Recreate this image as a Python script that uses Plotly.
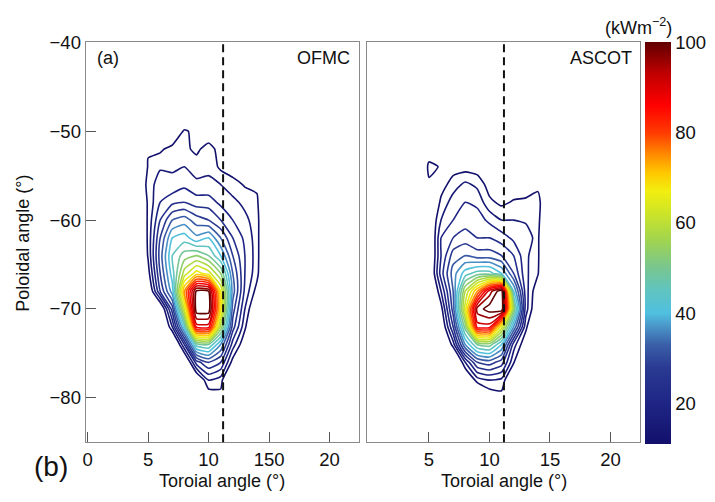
import plotly.graph_objects as go

# Grid of the heat-flux maps (toroidal angle x, poloidal angle y), values in kW m^-2
tor_angle = [4, 5, 6, 7, 8, 9, 10, 11, 12, 13, 14, 15]
pol_angle = [-82, -80, -78, -76, -74, -72, -70, -68, -66, -64, -62, -60,
             -58, -56, -54, -52, -50, -48]

# OFMC heat load (rows follow pol_angle, columns follow tor_angle)
flux_ofmc = [
    [0, 0, 0, 0, 0, 0, 0, 0, 0, 0, 0, 0],
    [0, 0, 0, 0, 0, 0, 8, 10, 0, 0, 0, 0],
    [0, 0, 0, 0, 0, 5, 16, 14, 0, 0, 0, 0],
    [0, 0, 0, 0, 3, 22, 28, 24, 10, 0, 0, 0],
    [0, 0, 0, 0, 20, 46, 48, 36, 18, 8, 0, 0],
    [0, 0, 0, 16, 42, 86, 86, 55, 26, 13, 0, 0],
    [0, 0, 5, 26, 60, 99, 99, 66, 30, 16, 5, 0],
    [0, 5, 24, 38, 72, 97, 96, 64, 34, 19, 10, 0],
    [0, 10, 28, 42, 58, 66, 62, 52, 32, 20, 13.5, 0],
    [0, 12.5, 30, 44, 50, 52, 48, 40, 28, 20, 14, 0],
    [0, 13, 28, 40, 42, 37, 40, 32, 24, 19, 14, 0],
    [0, 13, 24, 32, 34, 30, 28, 24, 20, 17, 14, 0],
    [0, 13, 20, 23, 24, 22, 22, 19, 17, 15, 13, 0],
    [3, 14, 18, 17, 19, 17, 17, 16, 14, 11.5, 11, 0],
    [0, 12.5, 15.5, 15.5, 16, 14, 15, 11, 9, 4, 0, 0],
    [0, 11.5, 11, 14, 13, 11, 14, 10, 6, 0, 0, 0],
    [0, 0, 0, 5, 13, 10, 8, 6, 0, 0, 0, 0],
    [0, 0, 0, 0, 0, 0, 0, 0, 0, 0, 0, 0],
]

# ASCOT heat load (same grid)
flux_ascot = [
    [0, 0, 0, 0, 0, 0, 0, 0, 0, 0, 0, 0],
    [0, 0, 0, 0, 0, 0, 8, 10, 0, 0, 0, 0],
    [0, 0, 0, 0, 4, 14, 16, 15, 4, 0, 0, 0],
    [0, 0, 0, 0, 16, 28, 30, 26, 12.5, 0, 0, 0],
    [0, 0, 0, 14, 36, 48, 50, 40, 18, 8, 0, 0],
    [0, 0, 6, 24, 50, 86, 86, 62, 36, 13.5, 0, 0],
    [0, 0, 10, 30, 62, 94, 98, 100, 52, 18, 6, 0],
    [0, 0, 16, 32, 56, 72, 90, 99, 40, 18, 8, 0],
    [0, 4, 22, 34, 42, 46, 46, 40, 28, 17, 12.5, 0],
    [0, 4, 20, 30, 32, 30, 30, 28, 24, 17, 13, 0],
    [0, 4, 20, 24, 26, 24, 24, 22, 19, 20, 13, 0],
    [0, 6, 16, 20, 22, 22, 19, 16, 16, 15, 14, 0],
    [0, 4, 13, 18, 20, 19, 13, 11, 12.5, 13, 15, 0],
    [0, 11, 10, 14, 17, 15, 10, 8, 9, 9, 10, 0],
    [0, 13.5, 11.5, 10, 10, 9.5, 6, 0, 0, 0, 0, 0],
    [0, 8, 0, 0, 0, 0, 0, 0, 0, 0, 0, 0],
    [0, 0, 0, 0, 0, 0, 0, 0, 0, 0, 0, 0],
    [0, 0, 0, 0, 0, 0, 0, 0, 0, 0, 0, 0],
]

# Toroidal position of the reference (dashed) line
ref_tor = 11.2

# Colour-bar limits and ticks
z_min, z_max = 11, 100
cbar_ticks = [20, 40, 60, 80, 100]

# x-axis tick labels of the two panels
left_ticks = [0, 5, 10, 15, 20]
left_ticktext = ["0", "5", "10", "150", "20"]
right_ticks = [5, 10, 15, 20]

jet_like = [
    [0.000, "#12106b"], [0.101, "#1f2585"], [0.190, "#2a3a92"],
    [0.247, "#3a5fa8"], [0.292, "#4a95c8"], [0.326, "#50c0e0"],
    [0.382, "#60c4c0"], [0.438, "#78c690"], [0.506, "#a0d450"],
    [0.573, "#cce428"], [0.629, "#f2ee10"], [0.674, "#ffc800"],
    [0.719, "#ff8c00"], [0.775, "#ff3a00"], [0.843, "#ff0000"],
    [0.921, "#c00000"], [1.000, "#600000"],
]

FONT = "Liberation Sans, Arial, Helvetica, sans-serif"

fig = go.Figure()

for z, xa, ya in [(flux_ofmc, "x", "y"), (flux_ascot, "x2", "y2")]:
    fig.add_trace(go.Contour(
        x=tor_angle, y=pol_angle, z=z,
        xaxis=xa, yaxis=ya,
        zmin=z_min, zmax=z_max, zauto=False,
        colorscale=jet_like,
        contours=dict(coloring="lines", start=12, end=99, size=4),
        line=dict(width=1.6, smoothing=0.5),
        showscale=False,
        hoverinfo="skip",
    ))

# Continuous colour bar
fig.add_trace(go.Scatter(
    x=[-50, -50], y=[-50, -50], mode="markers",
    marker=dict(
        color=[z_min, z_max], cmin=z_min, cmax=z_max, colorscale=jet_like,
        size=1, opacity=0, showscale=True,
        colorbar=dict(
            x=645 / 715, xanchor="left", xpad=0,
            y=1 - 443 / 502, yanchor="bottom", ypad=0,
            len=411 / 502, lenmode="fraction", thickness=26,
            outlinewidth=0, ticks="", tickvals=cbar_ticks,
            tickfont=dict(family=FONT, size=18.5, color="#111"),
            ticklabelposition="outside",
        ),
    ),
    hoverinfo="skip", showlegend=False,
))

frame = dict(showline=True, mirror=True, linecolor="#8a8a8a", linewidth=1,
             showgrid=False, zeroline=False)
tickfont = dict(family=FONT, size=18.5, color="#111")

fig.update_layout(
    width=715, height=502,
    margin=dict(l=0, r=0, t=0, b=0),
    paper_bgcolor="white", plot_bgcolor="white",
    showlegend=False,
    xaxis=dict(domain=[83 / 715, 357 / 715], range=[-0.16, 22.39],
               tickvals=left_ticks, ticktext=left_ticktext,
               ticks="inside", ticklen=10, tickcolor="#555",
               tickfont=tickfont, **frame),
    yaxis=dict(domain=[1 - 441 / 502, 1 - 32 / 502], range=[-85, -40],
               tickvals=[-80, -70, -60, -50, -40],
               ticks="inside", ticklen=10, tickcolor="#555",
               tickfont=tickfont, **frame),
    xaxis2=dict(domain=[366 / 715, 640 / 715], range=[-0.08, 22.47],
                anchor="y2", tickvals=right_ticks,
                ticks="inside", ticklen=10, tickcolor="#555",
                tickfont=tickfont, **frame),
    yaxis2=dict(domain=[1 - 441 / 502, 1 - 32 / 502], range=[-85, -40],
                anchor="x2", showticklabels=False, ticks="", **frame),
)

# Dashed reference lines
for xr, yr in [("x", "y domain"), ("x2", "y2 domain")]:
    fig.add_shape(type="line", xref=xr, yref=yr, x0=ref_tor, x1=ref_tor,
                  y0=0, y1=1, line=dict(color="#111", width=2, dash="8px,5px"))

def note(text, x, y, size=18, xanchor="center", angle=0):
    fig.add_annotation(text=text, x=x, y=y, xref="paper", yref="paper",
                       xanchor=xanchor, yanchor="middle", showarrow=False,
                       textangle=angle,
                       font=dict(family=FONT, size=size, color="#111"))

note("(a)", 92 / 715, 1 - 48 / 502, xanchor="left")
note("OFMC", 350 / 715, 1 - 48 / 502, xanchor="right")
note("ASCOT", 634 / 715, 1 - 48 / 502, xanchor="right")
note("(b)", 48 / 715, 1 - 466 / 502, size=28)
note("Toroial angle (°)", 220 / 715, 1 - 481 / 502, size=18)
note("Toroial angle (°)", 503 / 715, 1 - 481 / 502, size=18)
note("Poloidal angle (°)", 20 / 715, 1 - 237 / 502, size=18, angle=-90)
note("(kWm<sup>−2</sup>)", 638 / 715, 1 - 16 / 502, size=18)

fig.write_html("out.html")
